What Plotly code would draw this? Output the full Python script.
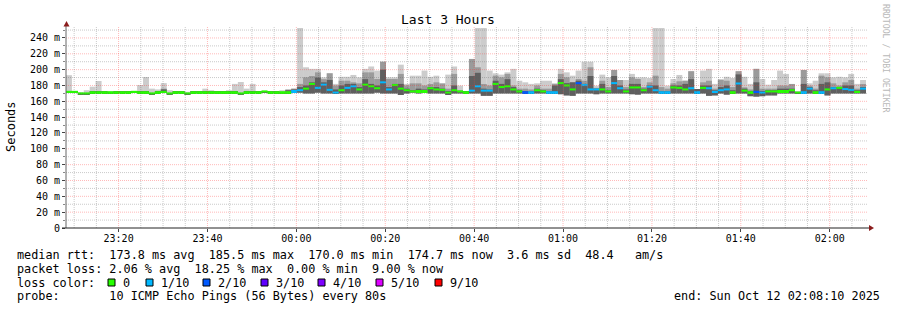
import plotly.graph_objects as go
import pandas as pd

# ---------------- data ----------------
START = "2025-10-11 23:08:10"
STEP_SECONDS = 80

median_ms = [172, 172, 170, 170, 171.5, 171.5, 171.5, 171.5, 171.5, 171.5,
             171.5, 172, 171.5, 171.5, 170, 171.5, 172, 170, 171.5, 171.5,
             170, 171.5, 171.5, 171.5, 171.5, 171.5, 171.5, 171.5, 171.5, 170,
             171.5, 171.5, 171.5, 172.5, 171.5, 171.5, 171.5, 171.5, 173, 174,
             176, 182, 177, 181, 174.5, 171, 174, 177, 179, 175,
             181, 179, 176.5, 184, 175, 180.5, 176, 174, 172.5, 173,
             173, 176.5, 175, 174.5, 171, 174, 172.5, 171.5, 173.5, 179,
             173.5, 173.5, 182, 178, 179, 175, 172.5, 171.5, 171.5, 174,
             172.5, 171.5, 171.5, 183, 180, 175, 183, 180.5, 175, 175,
             175, 172.5, 183, 176.5, 172.5, 177.5, 177.5, 174, 178.5, 174,
             171.5, 171.5, 177.5, 177, 175, 176.5, 171.5, 177, 176.5, 172,
             174, 175, 171.5, 182.5, 173.5, 171.5, 172, 171, 172.5, 172.5,
             173, 173, 174, 171, 171.5, 176, 171.5, 171.5, 175, 176.5,
             177, 175.5, 174.5, 172, 176]

loss_count = [0] * 10 + [0] * 10 + [0] * 10 + \
             [0, 0, 0, 0, 0, 0, 0, 0, 1, 1,
              0, 0, 1, 1, 1, 1, 0, 1, 1, 0,
              0, 0, 0, 1, 1, 0, 0, 0, 0, 0,
              0, 0, 0, 0, 0, 0, 0, 0, 1, 1,
              1, 1, 0, 0, 0, 0, 0, 2, 1, 0,
              0, 1, 1, 0, 0, 0, 2, 1, 1, 1,
              0, 0, 1, 1, 0, 0, 0, 0, 1, 1,
              1, 1, 0, 0, 0, 1, 1, 0, 1, 1,
              1, 1, 0, 1, 0, 0, 2, 1, 0, 0,
              0, 0, 0, 0, 1, 1, 0, 1, 0, 1,
              0, 1, 1, 0, 1]

smoke_hi = [193, 172.5, 171.5, 174, 178.5, 185.7, 172.5, 172.5, 172.5, 172.5,
            172.5, 173, 180.6, 190.7, 176, 175, 183, 174, 172.5, 172.5,
            172, 172.5, 172.5, 176, 174, 172.5, 173, 174, 182, 184.4,
            176, 182, 172.5, 173.5, 172.5, 172.5, 174, 173, 176, 260,
            203, 201, 201, 190.3, 195.4, 182, 191, 191, 193.3, 190.3,
            201, 204, 198.8, 210, 190.3, 190.3, 206.3, 182, 192.4, 192.4,
            198.8, 191, 192.4, 182, 193.7, 204, 179.8, 173, 213.5, 260,
            260, 198.8, 195.4, 193.7, 196.6, 201, 186, 184, 182, 182.7,
            186, 186, 182.7, 201, 196.6, 192.4, 198.8, 210, 210, 179.8,
            193.7, 190.3, 199.6, 186.9, 186.9, 194.6, 190.3, 190.3, 189.4, 260,
            260, 179.8, 188.2, 193.3, 186, 198, 175.6, 198.8, 201, 182,
            188.2, 191, 189.4, 198, 191, 182, 201, 188.2, 181, 186.9,
            198.8, 194.6, 182, 172.5, 199.6, 182.7, 186, 195.4, 195.4, 190.3,
            191, 190.3, 194.6, 182, 186.9]

smoke_mid = [172, 172, 170.5, 170.5, 172, 172, 172, 172, 172, 172,
             172, 172.5, 172, 172, 170.5, 172, 176, 170.5, 172, 172,
             170.5, 172, 172, 172, 172, 172, 172, 172, 172, 170.5,
             172, 172, 172, 173, 172, 172, 172, 175, 176, 182,
             190.3, 192, 196.6, 188, 195.4, 180, 186, 186, 184, 182.7,
             196.6, 196.6, 188.2, 210, 188.2, 188.2, 194.6, 180, 182.7, 182.7,
             180, 181.9, 184, 182.7, 176, 194.6, 174, 172, 213.5, 203,
             181.9, 180, 192.4, 190.3, 194.6, 180, 176, 176, 175, 180,
             176, 176, 182, 194.6, 190.3, 184, 188.2, 186, 203, 177,
             186, 178, 199.6, 186.9, 178, 190.3, 188.2, 178, 184, 192.4,
             178, 176, 182.7, 185.3, 186, 198, 175.6, 184, 186, 176,
             186.9, 186, 178, 198, 177.7, 175, 201, 176, 176, 176,
             180, 179.8, 181.9, 172, 199.6, 179.8, 176, 192.4, 190.3, 182.7,
             180, 184, 186.9, 176, 181.9]

smoke_dark = [172, 172, 170.5, 170.5, 172, 172, 172, 171, 172, 172,
              172, 172.5, 172, 172, 170.5, 172, 175, 170.5, 172, 172,
              170.5, 172, 172, 172, 172, 172, 172, 172, 172, 170.5,
              172, 172, 172, 173, 172, 172, 172, 174, 175, 178,
              180, 184, 190, 184, 187, 175, 180, 182, 182, 178,
              188, 182, 180, 200, 178, 182, 182, 176, 174, 176,
              175, 178, 178, 176, 173, 180, 173, 172, 192, 196,
              176, 175, 186, 182, 188, 178, 174, 173, 173, 176,
              174, 173, 180, 188, 183, 184, 186, 182, 192, 176,
              182, 174, 192, 180, 175, 182, 182, 176, 180, 180,
              173, 173, 180, 180, 182, 188, 175.6, 180, 180, 174,
              178, 180, 174, 194, 176, 173, 184, 173, 174, 174,
              176, 176, 176, 172, 182, 178, 174, 182, 184, 178,
              178, 180, 180, 174, 178]

smoke_lo = [170.5, 170.5, 169, 169, 170.5, 170.5, 170.5, 169.5, 170.5, 170.5,
            170.5, 170.5, 170.5, 170.5, 169, 170.5, 170.5, 169, 170.5, 170.5,
            169, 170.5, 170.5, 170.5, 170.5, 170.5, 170.5, 170.5, 170.5, 169,
            170.5, 170.5, 170.5, 170.5, 170.5, 170.5, 169.5, 169.5, 170.5, 171,
            170, 170, 171, 170, 170, 169.5, 170, 170, 170, 170,
            170, 170, 171, 170, 170, 170, 168, 170, 171, 170,
            171, 170, 170, 170, 168, 170, 170, 170.5, 170, 170,
            167, 167, 170, 170, 170, 170, 170, 170, 170, 170,
            170, 170, 170, 169, 167.5, 167, 170, 170, 170, 169,
            170, 170, 170, 170, 170, 169, 168.5, 170, 170, 170,
            170, 170, 170, 170, 170, 170, 170, 170, 167, 167.5,
            170, 168.5, 170, 170, 170, 166.5, 166, 166.5, 167.5, 167.5,
            170, 170, 170, 170, 170, 170, 170, 170, 167.5, 170,
            170, 170, 170, 170, 170]

y_tick_vals = [0, 20, 40, 60, 80, 100, 120, 140, 160, 180, 200, 220, 240]
x_tick_vals = ["2025-10-11 23:20", "2025-10-11 23:40", "2025-10-12 00:00",
               "2025-10-12 00:20", "2025-10-12 00:40", "2025-10-12 01:00",
               "2025-10-12 01:20", "2025-10-12 01:40", "2025-10-12 02:00"]
x_tick_text = ["23:20", "23:40", "00:00", "00:20", "00:40", "01:00",
               "01:20", "01:40", "02:00"]

loss_colors = {0: "#26ff00", 1: "#00b8ff", 2: "#0059ff", 3: "#5e00ff",
               4: "#7e00ff", 5: "#dd00ff", 9: "#ff0000"}
legend_labels = ["0", "1/10", "2/10", "3/10", "4/10", "5/10", "9/10"]
legend_keys = [0, 1, 2, 3, 4, 5, 9]

# ---------------- geometry ----------------
W, H = 897, 310
L, R, T, B = 66, 866, 28, 228
Y_MAX = 252.6
MONO = "DejaVu Sans Mono"
MAJOR_GRID = "rgba(255,40,40,0.32)"
MINOR_GRID = "rgba(90,90,90,0.32)"

start = pd.Timestamp(START)
n = len(median_ms)
step = pd.Timedelta(seconds=STEP_SECONDS)
centers = [start + step * i + step / 2 for i in range(n)]
end = start + step * n
width_ms = STEP_SECONDS * 1000


def px(xp):
    return (xp - L) / (R - L)


def py(yp):
    return (B - yp) / (B - T)


fig = go.Figure()


def band(lo, hi, color):
    fig.add_trace(go.Bar(
        x=centers, base=lo, y=[max(h - l, 0) for l, h in zip(lo, hi)],
        width=width_ms, marker=dict(color=color, line=dict(width=0)),
        hoverinfo="skip", showlegend=False))


band(smoke_lo, smoke_hi, "rgb(204,204,204)")
band(smoke_lo, smoke_mid, "rgb(155,155,155)")
band(smoke_lo, smoke_dark, "rgb(95,95,95)")

half = 1.0 / ((B - T) / Y_MAX)  # ~1 px in data units
fig.add_trace(go.Bar(
    x=centers, base=[m - half for m in median_ms], y=[2 * half] * n,
    width=width_ms,
    marker=dict(color=[loss_colors[c] for c in loss_count], line=dict(width=0)),
    hoverinfo="skip", showlegend=False))

shapes = []
# horizontal grid
for v in range(10, 260, 10):
    major = v % 20 == 0
    shapes.append(dict(type="line", xref="paper", yref="y", x0=0, x1=px(868),
                       y0=v, y1=v, layer="above",
                       line=dict(color=MAJOR_GRID if major else MINOR_GRID,
                                 width=1, dash="1px,1px")))
# vertical grid
for t in pd.date_range("2025-10-11 23:10", "2025-10-12 02:05", freq="5min"):
    major = t.minute % 20 == 0
    shapes.append(dict(type="line", xref="x", yref="paper", x0=t, x1=t,
                       y0=0, y1=py(26), layer="above",
                       line=dict(color=MAJOR_GRID if major else MINOR_GRID,
                                 width=1, dash="1px,1px")))
# axes lines and arrows
shapes.append(dict(type="line", xref="paper", yref="paper", x0=px(66), x1=px(66),
                   y0=py(228), y1=py(25), layer="above", line=dict(color="#666666", width=1)))
shapes.append(dict(type="line", xref="paper", yref="paper", x0=px(62), x1=px(870),
                   y0=py(228), y1=py(228), layer="above", line=dict(color="#222222", width=1)))
shapes.append(dict(type="path", xref="paper", yref="paper", layer="above",
                   path=f"M {px(63.5)} {py(26.5)} L {px(69.5)} {py(26.5)} L {px(66.5)} {py(21)} Z",
                   fillcolor="#8b1c1c", line=dict(width=0)))
shapes.append(dict(type="path", xref="paper", yref="paper", layer="above",
                   path=f"M {px(869)} {py(225)} L {px(869)} {py(231)} L {px(874)} {py(228)} Z",
                   fillcolor="#8b1c1c", line=dict(width=0)))

annotations = []


def text(s, x, y, anchor="left", size=11.8, color="#000000", angle=0, family=MONO):
    annotations.append(dict(text=s.replace(" ", "\u00a0"), xref="paper", yref="paper",
                            x=px(x), y=py(y), xanchor=anchor, yanchor="middle",
                            showarrow=False, textangle=angle,
                            font=dict(family=family, size=size, color=color)))


text("Last 3 Hours", 448, 19, anchor="center", size=13)
text("Seconds", 11, 126, anchor="center", size=12, angle=-90)
text("RRDTOOL / TOBI OETIKER", 886, 59, anchor="center", size=8.2, color="#b8b8b8", angle=90)

text("median rtt:  173.8 ms avg  185.5 ms max  170.0 ms min  174.7 ms now  3.6 ms sd  48.4   am/s", 15, 255)
text("packet loss: 2.06 % avg  18.25 % max  0.00 % min  9.00 % now", 15, 268.5)
text("loss color:", 15, 282.5)
text("probe:       10 ICMP Echo Pings (56 Bytes) every 80s", 15, 296)
text("end: Sun Oct 12 02:08:10 2025", 882, 296, anchor="right")

box_left = [108, 146, 203, 261, 318, 376, 435]
for bx, key, lab in zip(box_left, legend_keys, legend_labels):
    shapes.append(dict(type="rect", xref="paper", yref="paper",
                       x0=px(bx), x1=px(bx + 7), y0=py(286), y1=py(279),
                       fillcolor=loss_colors[key], line=dict(color="#000000", width=1)))
    text(lab, bx + 13, 282.5)

fig.update_layout(
    width=W, height=H,
    margin=dict(l=L, r=W - R, t=T, b=H - B, pad=0),
    paper_bgcolor="#ffffff", plot_bgcolor="#ffffff",
    barmode="overlay", showlegend=False,
    shapes=shapes, annotations=annotations,
    xaxis=dict(type="date", range=[start, end], showgrid=False, zeroline=False,
               showline=False, tickvals=x_tick_vals, ticktext=x_tick_text,
               ticks="outside", ticklen=3, tickcolor="#444444",
               ticklabelstandoff=-2,
               tickfont=dict(family=MONO, size=10, color="#000000")),
    yaxis=dict(range=[0, Y_MAX], showgrid=False, zeroline=False, showline=False,
               tickvals=y_tick_vals,
               ticktext=[("%d m" % v) if v else "0" for v in y_tick_vals],
               ticks="outside", ticklen=3, tickcolor="#444444",
               minor=dict(ticks="outside", ticklen=2, dtick=10, tickcolor="#888888"),
               tickfont=dict(family=MONO, size=10, color="#000000")),
)

fig.write_html("out.html")
